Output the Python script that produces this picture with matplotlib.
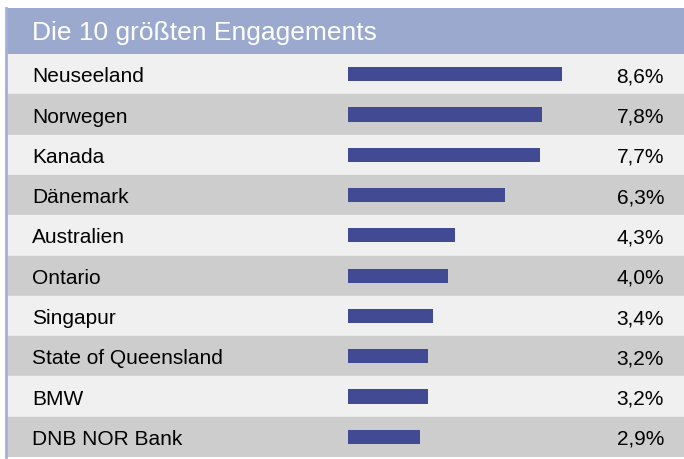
import matplotlib.pyplot as plt
from matplotlib.patches import Rectangle

plt.rcParams['font.family'] = ['Liberation Sans', 'DejaVu Sans']

title = 'Die 10 größten Engagements'
names = ['Neuseeland', 'Norwegen', 'Kanada', 'Dänemark', 'Australien', 'Ontario',
         'Singapur', 'State of Queensland', 'BMW', 'DNB NOR Bank']
shares = [8.6, 7.8, 7.7, 6.3, 4.3, 4.0, 3.4, 3.2, 3.2, 2.9]

W, H = 684, 460
fig = plt.figure(figsize=(W / 100, H / 100), dpi=100)

# pixel layout
left, top_hdr, top_rows, bottom = 7, 9, 55, 458
bar0 = 348          # px where bars start
px_per_pct = 24.9

# header
hax = fig.add_axes([left / W, 1 - top_rows / H, (W - left) / W, (top_rows - top_hdr) / H])
hax.set_axis_off()
hax.add_patch(Rectangle((0, 0), 1, 1, transform=hax.transAxes, color='#9ba9cf'))
hax.text((32 - left) / (W - left), 0.47, title, color='white', fontsize=19,
         va='center', ha='left', transform=hax.transAxes)

# rows with bars
ax = fig.add_axes([left / W, 1 - bottom / H, (W - left) / W, (bottom - top_rows) / H])
ax.set_xlim((left - bar0) / px_per_pct, (W - bar0) / px_per_pct)
ax.set_ylim(len(names) - 0.5, -0.5)
ax.set_axis_off()

for i, (name, val) in enumerate(zip(names, shares)):
    ax.axhspan(i - 0.5, i + 0.5, color='#f0f0f0' if i % 2 == 0 else '#cdcdcd', zorder=0)
    ax.text((32 - bar0) / px_per_pct, i + 0.04, name, fontsize=15, va='center', ha='left')
    ax.text((664 - bar0) / px_per_pct, i + 0.04, f'{val:.1f}%'.replace('.', ','),
            fontsize=15, va='center', ha='right')

ax.barh(range(len(names)), shares, height=0.35, color='#414a93', zorder=2)

# left border line
fig.add_artist(plt.Line2D([6 / W, 6 / W], [1 - top_hdr / H, 1 - bottom / H],
                          color='#a3b0da', lw=2))

fig.savefig('out.png', dpi=100)
